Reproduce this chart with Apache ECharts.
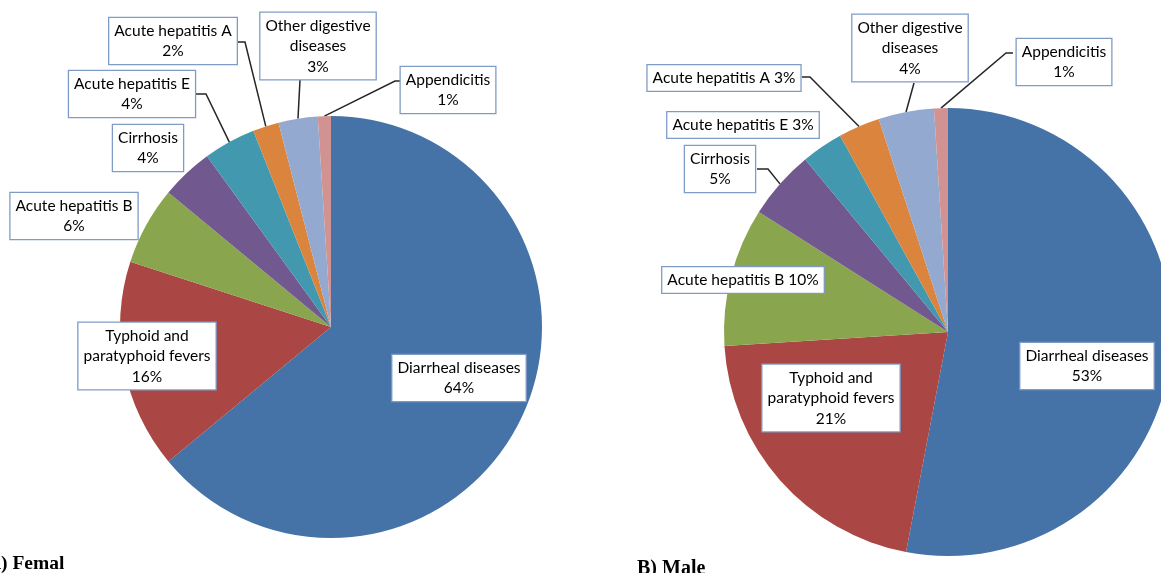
<!DOCTYPE html>
<html><head><meta charset="utf-8">
<script src="https://cdn.jsdelivr.net/npm/echarts@6/dist/echarts.min.js"></script>
<style>html,body{margin:0;padding:0;background:#fff;overflow:hidden}#c{width:1161px;height:573px}</style>
</head><body><div id="c"></div>
<script>
// ---- data ----
const categories = ['Diarrheal diseases', 'Typhoid and paratyphoid fevers', 'Acute hepatitis B', 'Cirrhosis',
  'Acute hepatitis E', 'Acute hepatitis A', 'Other digestive diseases', 'Appendicitis'];
const femaleValues = [64, 16, 6, 4, 4, 2, 3, 1];
const maleValues = [53, 21, 10, 5, 3, 3, 4, 1];
const femaleLabelNames = ['Diarrheal diseases', 'Typhoid and\nparatyphoid fevers', 'Acute hepatitis B', 'Cirrhosis',
  'Acute hepatitis E', 'Acute hepatitis A', 'Other digestive\ndiseases', 'Appendicitis'];
const maleLabelNames = ['Diarrheal diseases', 'Typhoid and\nparatyphoid fevers', 'Acute hepatitis B', 'Cirrhosis',
  'Acute hepatitis E', 'Acute hepatitis A', 'Other digestive\ndiseases', 'Appendicitis'];
const panelTitles = ['A) Femal', 'B) Male'];

// ---- layout / style (kept apart from data) ----
const colors = ['#4572A7', '#AA4643', '#89A54E', '#71588F', '#4198AF', '#DB843D', '#93A9CF', '#D19392'];
const maleInline = [false, false, true, false, true, true, false, false];
const femaleInline = [false, false, false, false, false, false, false, false];
const femaleLabelPos = [[459, 378], [147, 356], [74, 216], [148, 148], [132, 94], [173, 41], [318, 46], [448, 90]];
const maleLabelPos = [[1087, 366], [831, 398], [743, 280], [720, 169], [743, 125], [724, 78], [910, 48], [1064, 62]];
const femaleLines = [null, null, null, null, [[206, 94], [196, 94]], [[245, 42], [237, 42]], [[300, 80], [300, 80]], [[395, 81], [400, 81]]];
const maleLines = [null, null, null, [[768, 169], [757, 169]], null, [[810, 77], [802, 77]], [[914, 83], [914, 83]], [[1006, 53], [1013, 53]]];

const chart = echarts.init(document.getElementById('c'), null, {renderer: 'canvas'});

function makeSeries(values, names, inline, pos, lines, center, radius) {
  return {
    type: 'pie',
    center: center,
    radius: radius,
    startAngle: 90,
    clockwise: true,
    avoidLabelOverlap: false,
    animation: false,
    silent: true,
    data: values.map((v, i) => ({
      name: categories[i],
      value: v,
      itemStyle: {color: colors[i]},
      labelLine: {show: !!lines[i]}
    })),
    label: {
      show: true,
      position: 'outside',
      formatter: p => names[p.dataIndex] + (inline[p.dataIndex] ? ' ' : '\n') + p.value + '%',
      fontFamily: 'Lato',
      fontSize: 15.5,
      lineHeight: 20.5,
      color: '#000',
      backgroundColor: '#fff',
      borderColor: '#7f9cc6',
      borderWidth: 1.3,
      padding: [3, 5, 2, 5],
      align: 'center'
    },
    labelLine: {
      show: true,
      lineStyle: {color: '#262626', width: 1.5}
    },
    labelLayout: function (params) {
      const i = params.dataIndex;
      const res = {x: pos[i][0], y: pos[i][1], align: 'center', verticalAlign: 'middle'};
      if (lines[i] && params.labelLinePoints) {
        const start = params.labelLinePoints[0];
        res.labelLinePoints = [[start[0], start[1]], lines[i][0], lines[i][1]];
      }
      return res;
    }
  };
}

chart.setOption({
  backgroundColor: '#fff',
  title: [
    {text: panelTitles[0], left: -18, top: 549, textStyle: {fontFamily: 'Liberation Serif', fontWeight: 'bold', fontSize: 19.5, color: '#000'}},
    {text: panelTitles[1], left: 632, top: 554, textStyle: {fontFamily: 'Liberation Serif', fontWeight: 'bold', fontSize: 20, color: '#000'}}
  ],
  series: [
    makeSeries(femaleValues, femaleLabelNames, femaleInline, femaleLabelPos, femaleLines, [331, 327], 211),
    makeSeries(maleValues, maleLabelNames, maleInline, maleLabelPos, maleLines, [948, 332], 224)
  ]
});
</script>
</body></html>
